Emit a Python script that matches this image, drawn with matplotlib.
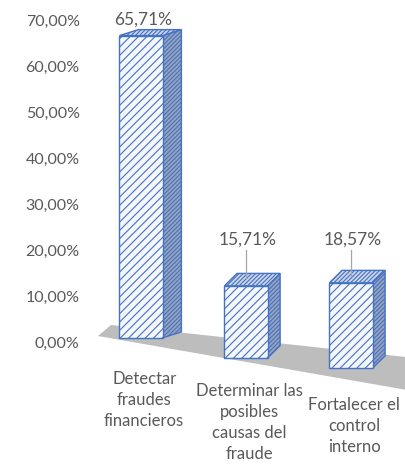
import matplotlib

matplotlib.use("Agg")
import matplotlib.pyplot as plt
from matplotlib.patches import Polygon

# --- data ---
CATEGORIES = ["Detectar\nfraudes\nfinancieros",
              "Determinar las\nposibles\ncausas del\nfraude",
              "Fortalecer el\ncontrol\ninterno"]
VALUES = [65.71, 15.71, 18.57]
VALUE_LABELS = ["65,71%", "15,71%", "18,57%"]
Y_TICKS = [0, 10, 20, 30, 40, 50, 60, 70]
Y_TICK_LABELS = ["0,00%", "10,00%", "20,00%", "30,00%", "40,00%", "50,00%", "60,00%", "70,00%"]

# --- fake 3D perspective (layout only) ---
BASES = [0.9, -3.5, -5.7]          # floor level under each bar
DEPTH_DX = [0.18, 0.12, 0.12]      # side face depth (x units)
DEPTH_DY = [1.3, 2.7, 2.7]         # top face depth (y units)
CAT_LABEL_Y = [-6.3, -8.9, -12.0]
VAL_LABEL_Y = [68.4, 20.6, 20.6]
LEADER = [False, True, True]
FLOOR = [(-0.41, 1.3), (-0.286, 3.7), (2.7, -3.7), (2.7, -11.1)]

TEXT = "#595959"
BLUE = "#4472C4"

plt.rcParams["font.family"] = ["Lato", "DejaVu Sans"]
plt.rcParams["hatch.linewidth"] = 0.8

fig = plt.figure(figsize=(4.06, 4.66), dpi=100)
ax = fig.add_axes([95 / 406, 0, 311 / 406, 1])
ax.set_xlim(-0.438, 2.524)
ax.set_ylim(-26.96, 74.35)

# floor
ax.add_patch(Polygon(FLOOR, closed=True, facecolor="#bdbdbd", edgecolor="none", zorder=1))

x = list(range(len(VALUES)))
w = 0.41
ax.bar(x, VALUES, width=w, bottom=BASES, facecolor="#f4f7fc", edgecolor=BLUE,
       hatch="////", linewidth=1.0, zorder=3)

for i, v in enumerate(VALUES):
    b = BASES[i]
    dx, dy = DEPTH_DX[i], DEPTH_DY[i]
    xr = i + w / 2
    xl = i - w / 2
    top = b + v
    side = [(xr, b), (xr + dx, b + dy), (xr + dx, top + dy), (xr, top)]
    ax.add_patch(Polygon(side, closed=True, facecolor="#98a3bb", edgecolor=BLUE,
                         hatch="////////", linewidth=1.0, zorder=2))
    roof = [(xl, top), (xl + dx, top + dy), (xr + dx, top + dy), (xr, top)]
    ax.add_patch(Polygon(roof, closed=True, facecolor="#cdd5e6", edgecolor=BLUE,
                         hatch="////////", linewidth=1.0, zorder=4))

    ax.text(i + 0.02, VAL_LABEL_Y[i], VALUE_LABELS[i], ha="center", va="bottom",
            fontsize=12.5, color=TEXT)
    if LEADER[i]:
        ax.plot([i, i], [VAL_LABEL_Y[i] - 0.6, top + dy * 0.6],
                color="#a6a6a6", linewidth=0.9, zorder=5)

    ax.text(i + 0.03, CAT_LABEL_Y[i], CATEGORIES[i], ha="center", va="top",
            fontsize=12, color=TEXT, linespacing=1.38)

ax.set_yticks(Y_TICKS)
ax.set_yticklabels(Y_TICK_LABELS, fontsize=11.5, color=TEXT)
ax.tick_params(axis="y", length=0, pad=11)
ax.set_xticks([])
for s in ax.spines.values():
    s.set_visible(False)

plt.savefig("out.png", dpi=100)
plt.close()
